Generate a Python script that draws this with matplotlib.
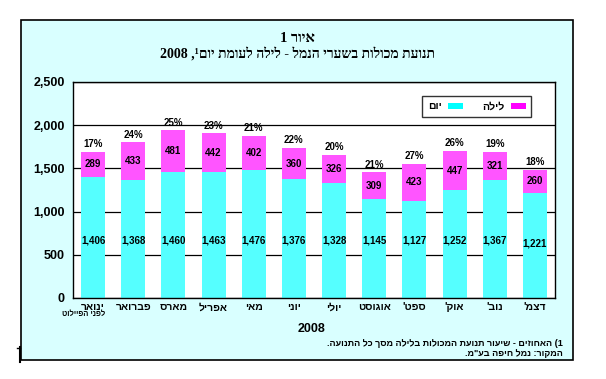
import re
import matplotlib
matplotlib.use("Agg")
import matplotlib.pyplot as plt
from matplotlib.patches import Rectangle, Patch
from matplotlib.lines import Line2D

# ---------------- data ----------------
months = ["ינואר", "פברואר", "מארס", "אפריל", "מאי", "יוני",
          "יולי", "אוגוסט", "ספט'", "אוק'", "נוב'", "דצמ'"]
day_values = [1406, 1368, 1460, 1463, 1476, 1376, 1328, 1145, 1127, 1252, 1367, 1221]
night_values = [289, 433, 481, 442, 402, 360, 326, 309, 423, 447, 321, 260]
night_pct = ["17%", "24%", "25%", "23%", "21%", "22%", "20%", "21%", "27%", "26%", "19%", "18%"]
yticks = [0, 500, 1000, 1500, 2000, 2500]
series_names = ["יום", "לילה"]
jan_note = "לפני הפיילוט"
title1 = "איור 1"
title2 = "תנועת מכולות בשערי הנמל - לילה לעומת יום¹, 2008"
xlabel = "2008"
foot1 = "1) האחוזים - שיעור תנועת המכולות בלילה מסך כל התנועה."
foot2 = "המקור: נמל חיפה בע\"מ."

MIRROR = str.maketrans("()[]", ")(][")


def vis(s):
    """Simple right-to-left visual ordering for display."""
    r = s[::-1].translate(MIRROR)
    return re.sub(r"[0-9A-Za-z\u00B9][0-9A-Za-z,.%\u00B9]*[0-9A-Za-z\u00B9]|[0-9A-Za-z\u00B9]",
                  lambda m: m.group(0)[::-1], r)


SANS = ["Liberation Sans", "DejaVu Sans"]
SERIF = ["Liberation Serif", "DejaVu Serif", "DejaVu Sans"]

DAY_C = "#55FFFF"
NIGHT_C = "#FF55FF"

W, H = 606, 379
fig = plt.figure(figsize=(W / 100, H / 100), dpi=100)
fig.patch.set_facecolor("white")

# outer light-cyan frame
fig.add_artist(Rectangle((21 / W, 19 / H), (573 - 21) / W, (360 - 20) / H,
                         transform=fig.transFigure, facecolor="#D9FFFF",
                         edgecolor="black", lw=1.2, zorder=0))
fig.add_artist(Line2D([19.5 / W, 19.5 / W], [17 / H, 32 / H], transform=fig.transFigure,
                      color="black", lw=1.5))
fig.add_artist(Line2D([16.5 / W, 19.5 / W], [31 / H, 31 / H], transform=fig.transFigure,
                      color="black", lw=1))

ax = fig.add_axes([73 / W, 81 / H, 482 / W, 216 / H])
ax.set_facecolor("white")

x = list(range(len(months)))
ax.bar(x, day_values, width=0.6, color=DAY_C, zorder=2)
ax.bar(x, night_values, width=0.6, bottom=day_values, color=NIGHT_C, zorder=2)

ax.set_xlim(-0.5, len(months) - 0.5)
ax.set_ylim(0, 2500)
ax.set_yticks(yticks)
ax.set_yticklabels([f"{v:,}" for v in yticks], fontfamily=SANS, fontweight="bold", fontsize=9)
ax.set_xticks(x)
ax.set_xticklabels([vis(m) for m in months], fontfamily=SANS, fontweight="bold", fontsize=7.5)
ax.tick_params(axis="y", length=0, pad=6)
ax.tick_params(axis="x", length=0, pad=3)
ax.yaxis.grid(True, color="black", lw=0.9)
ax.set_axisbelow(True)
for sp in ax.spines.values():
    sp.set_color("black")
    sp.set_linewidth(1)

for i in x:
    total = day_values[i] + night_values[i]
    ax.text(i, 670 if i < len(months) - 1 else 635, f"{day_values[i]:,}", ha="center", va="center",
            fontfamily=SANS, fontweight="bold", fontsize=7, zorder=3)
    ax.text(i, day_values[i] + night_values[i] / 2, f"{night_values[i]:,}", ha="center",
            va="center", fontfamily=SANS, fontweight="bold", fontsize=7, zorder=3)
    ax.annotate(night_pct[i], (i, total), xytext=(0, 2), textcoords="offset points",
                ha="center", va="bottom", fontfamily=SANS, fontweight="bold", fontsize=7)

ax.text(0.3, -0.078, vis(jan_note), transform=ax.get_xaxis_transform(), ha="right", va="center",
        fontfamily=SANS, fontweight="bold", fontsize=5.5)

handles = [Patch(facecolor="#00FFFF", edgecolor="none"), Patch(facecolor="#FF00FF", edgecolor="none")]
leg = ax.legend(handles, [vis(s) for s in series_names], ncol=2, markerfirst=False,
                loc="upper right", bbox_to_anchor=(0.951, 0.937), frameon=True, fancybox=False,
                prop={"family": SANS, "weight": "bold", "size": 7.5},
                handlelength=1.45, handleheight=0.55, handletextpad=0.6, columnspacing=1.8,
                borderpad=0.55, borderaxespad=0)
leg.get_frame().set_edgecolor("black")
leg.get_frame().set_linewidth(1)

fig.text(297 / W, 1 - 39 / H, vis(title1), ha="center", va="center", fontfamily=SERIF,
         fontweight="bold", fontsize=10.5)
fig.text(297 / W, 1 - 54 / H, vis(title2), ha="center", va="center", fontfamily=SERIF,
         fontweight="bold", fontsize=10)
fig.text(312 / W, 1 - 329 / H, xlabel, ha="center", va="center", fontfamily=SANS,
         fontweight="bold", fontsize=9)
fig.text(563 / W, 1 - 343 / H, vis(foot1), ha="right", va="center", fontfamily=SANS,
         fontweight="bold", fontsize=6.5)
fig.text(563 / W, 1 - 353 / H, vis(foot2), ha="right", va="center", fontfamily=SANS,
         fontweight="bold", fontsize=6.5)

fig.savefig("out.png", dpi=100)
